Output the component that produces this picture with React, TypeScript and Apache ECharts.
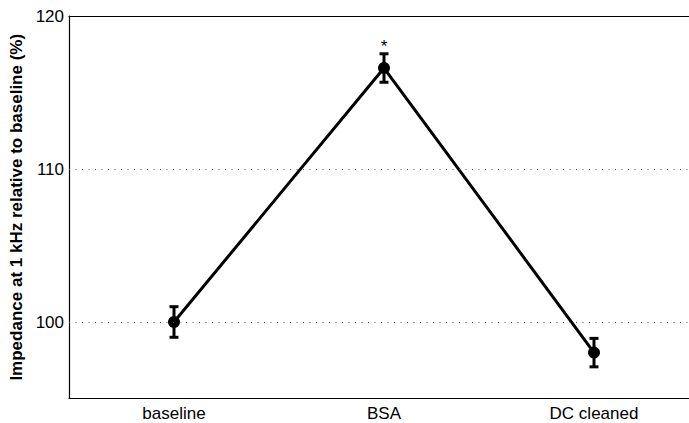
import React, { useEffect, useRef } from "react";
import * as echarts from "echarts";

// Impedance at 1 kHz, relative to baseline, for each electrode condition
const conditions = ["baseline", "BSA", "DC cleaned"];
const meanImpedance = [100, 116.6, 98.0];
const errorImpedance = [1.0, 0.93, 0.93];
const significance = ["", "*", ""];
const yTickValues = [100, 110, 120];
const gridValues = [100, 110];

const FONT = "'Liberation Sans', Arial, Helvetica, sans-serif";

export default function App() {
  const ref = useRef<HTMLDivElement>(null);

  useEffect(() => {
    if (!ref.current) return;
    const chart = echarts.init(ref.current, null, { renderer: "svg" });

    const errData = conditions.map((_, i) => [
      i,
      meanImpedance[i] - errorImpedance[i],
      meanImpedance[i] + errorImpedance[i],
      significance[i],
    ]);

    chart.setOption({
      animation: false,
      backgroundColor: "#ffffff",
      grid: { show: false, left: 69, width: 630, top: 16, bottom: 24.5, outerBoundsMode: "none", containLabel: false },
      xAxis: [
        {
          type: "category",
          data: conditions,
          position: "bottom",
          boundaryGap: true,
          axisLine: { lineStyle: { color: "#000", width: 1.2 } },
          axisTick: { inside: true, length: 6, alignWithLabel: true, lineStyle: { color: "#333", width: 1 } },
          axisLabel: { color: "#000", fontSize: 17, fontFamily: FONT, margin: 6 },
          splitLine: { show: false },
          splitArea: { show: false },
        },
        {
          // top frame edge of the axes box
          type: "category",
          data: conditions,
          position: "top",
          boundaryGap: true,
          axisLine: { lineStyle: { color: "#000", width: 1.2 } },
          axisTick: { inside: true, length: 6, alignWithLabel: true, lineStyle: { color: "#555", width: 1 } },
          axisLabel: { show: false },
          splitLine: { show: false },
          splitArea: { show: false },
        },
      ],
      yAxis: {
        type: "value",
        position: "left",
        min: 95,
        max: 120,
        interval: 5,
        name: "Impedance at 1 kHz relative to baseline (%)",
        nameLocation: "middle",
        nameRotate: 90,
        nameGap: 40,
        nameTextStyle: { color: "#000", fontSize: 17, fontWeight: "bold", fontFamily: FONT },
        axisLine: { show: true, lineStyle: { color: "#000", width: 1.2 } },
        axisTick: { show: false },
        axisLabel: {
          color: "#000",
          fontSize: 17,
          fontFamily: FONT,
          margin: 5,
          customValues: yTickValues,
          formatter: (v: number) => (yTickValues.includes(v) ? String(v) : ""),
        },
        splitLine: { show: false },
      },
      series: [
        {
          type: "custom",
          z: 2,
          data: errData,
          renderItem: (params: any, api: any) => {
            const idx = api.value(0);
            const lo = api.coord([idx, api.value(1)]);
            const hi = api.coord([idx, api.value(2)]);
            const hw = 4.5;
            const stroke = { stroke: "#000", lineWidth: 3 };
            const mark = significance[idx];
            const children: any[] = [
              { type: "line", shape: { x1: lo[0], y1: lo[1], x2: hi[0], y2: hi[1] }, style: stroke },
              { type: "line", shape: { x1: hi[0] - hw, y1: hi[1], x2: hi[0] + hw, y2: hi[1] }, style: stroke },
              { type: "line", shape: { x1: lo[0] - hw, y1: lo[1], x2: lo[0] + hw, y2: lo[1] }, style: stroke },
            ];
            if (mark) {
              children.push({
                type: "text",
                style: {
                  text: mark,
                  x: hi[0],
                  y: hi[1] + 1,
                  align: "center",
                  verticalAlign: "bottom",
                  fontSize: 17,
                  fontFamily: FONT,
                  fill: "#000",
                },
              });
            }
            return { type: "group", children };
          },
          markLine: {
            silent: true,
            symbol: "none",
            label: { show: false },
            lineStyle: { color: "#555", width: 1, type: [1, 5.5] },
            data: gridValues.map((v) => ({ yAxis: v })),
          },
        },
        {
          type: "line",
          z: 3,
          data: meanImpedance,
          symbol: "circle",
          symbolSize: 12,
          itemStyle: { color: "#000" },
          lineStyle: { color: "#000", width: 3 },
        },
      ],
    });

    return () => chart.dispose();
  }, []);

  // The plotting box is a little wider than the visible area; its right side is cut off.
  return (
    <div style={{ position: "absolute", left: 0, top: 0, width: 689, height: 423, overflow: "hidden", background: "#fff" }}>
      <div ref={ref} style={{ width: 710, height: 423 }} />
    </div>
  );
}
